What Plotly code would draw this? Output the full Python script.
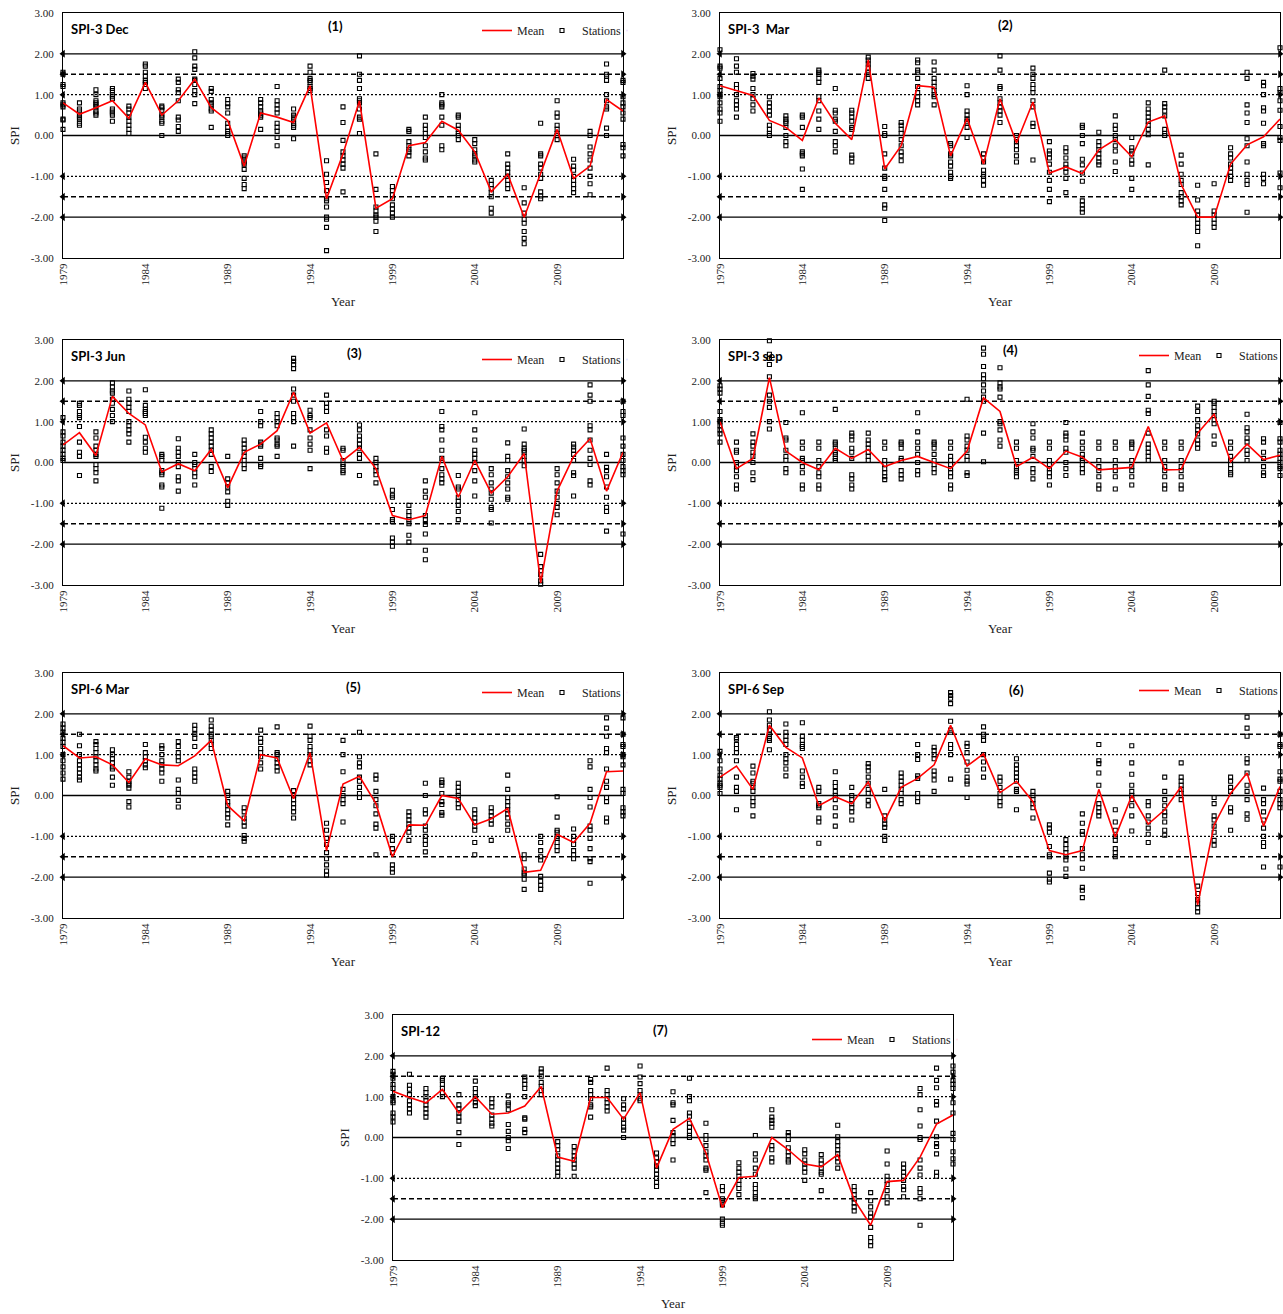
import plotly.graph_objects as go

W, H = 1283, 1314
YEARS = list(range(1979, 2014))
X_TICKS = list(range(1979, 2010, 5))
Y_TICKS = [-3, -2, -1, 0, 1, 2, 3]
Y_TICK_LABELS = ["-3.00", "-2.00", "-1.00", "0.00", "1.00", "2.00", "3.00"]
THRESH_SOLID = [2.0, -2.0]
THRESH_DASH = [1.5, -1.5]
THRESH_DOT = [1.0, -1.0]

# ---------------- Panel 1: SPI-3 Dec ----------------
MEAN_1 = [0.80, 0.52, 0.68, 0.85, 0.42, 1.30, 0.50, 0.85, 1.38, 0.68, 0.37, -0.75, 0.55, 0.45,
          0.32, 1.22, -1.55, -0.45, 0.85, -1.78, -1.55, -0.25, -0.17, 0.35, 0.13, -0.40, -1.38,
          -0.95, -2.00, -0.92, 0.15, -1.05, -0.75, 0.88, 0.60]
STATIONS_1 = [
    [1.55, 1.50, 1.25, 1.20, 0.80, 0.75, 0.70, 0.40, 0.38, 0.15],
    [0.80, 0.65, 0.60, 0.50, 0.45, 0.40, 0.30, 0.25],
    [1.12, 1.00, 0.85, 0.80, 0.75, 0.70, 0.60, 0.55, 0.50],
    [1.15, 1.10, 1.00, 0.95, 0.90, 0.65, 0.60, 0.55, 0.50, 0.35],
    [0.72, 0.65, 0.55, 0.45, 0.35, 0.25, 0.15, 0.05],
    [1.75, 1.70, 1.55, 1.45, 1.35, 1.30, 1.25, 1.15],
    [0.72, 0.68, 0.62, 0.50, 0.45, 0.35, 0.30, 0.00],
    [1.38, 1.30, 1.12, 1.05, 0.85, 0.45, 0.38, 0.22, 0.10],
    [2.05, 1.90, 1.70, 1.62, 1.38, 1.35, 1.25, 1.10, 1.00, 0.78],
    [1.15, 1.08, 0.88, 0.80, 0.75, 0.65, 0.60, 0.20],
    [0.88, 0.78, 0.70, 0.55, 0.30, 0.20, 0.10, 0.05, 0.00],
    [-0.50, -0.55, -0.60, -0.65, -0.70, -0.83, -1.05, -1.20, -1.30],
    [0.88, 0.80, 0.70, 0.60, 0.55, 0.50, 0.45, 0.15],
    [1.20, 0.85, 0.75, 0.65, 0.55, 0.30, 0.20, 0.10, -0.05, -0.25],
    [0.65, 0.50, 0.45, 0.40, 0.30, 0.25, 0.20, -0.08],
    [1.70, 1.55, 1.40, 1.35, 1.30, 1.20, 1.15, 1.10],
    [-0.62, -0.95, -1.15, -1.35, -1.55, -1.60, -1.75, -2.00, -2.05, -2.25, -2.82],
    [0.70, 0.32, -0.12, -0.40, -0.50, -0.60, -0.70, -0.80, -1.38],
    [1.95, 1.50, 1.35, 1.15, 0.90, 0.85, 0.80, 0.65, 0.45, 0.40, 0.05],
    [-0.45, -1.32, -1.75, -1.85, -1.95, -2.00, -2.10, -2.35],
    [-1.25, -1.35, -1.45, -1.55, -1.70, -1.80, -1.90, -2.00],
    [0.15, 0.10, -0.15, -0.25, -0.35, -0.40, -0.50],
    [0.45, 0.25, 0.15, 0.05, -0.05, -0.25, -0.40, -0.55, -0.60],
    [1.00, 0.80, 0.75, 0.70, 0.45, 0.25, -0.25, -0.35],
    [0.50, 0.45, 0.25, 0.15, 0.05, 0.00, -0.10],
    [-0.10, -0.20, -0.35, -0.45, -0.50, -0.60, -0.65],
    [-1.10, -1.20, -1.30, -1.40, -1.50, -1.78, -1.90],
    [-0.45, -0.70, -0.80, -0.90, -1.00, -1.10, -1.20, -1.30],
    [-1.28, -1.65, -1.90, -2.05, -2.15, -2.35, -2.52, -2.65],
    [0.30, -0.45, -0.50, -0.70, -0.80, -0.95, -1.05, -1.38, -1.48, -1.55],
    [0.85, 0.55, 0.45, 0.25, 0.15, 0.05, 0.00, -0.10],
    [-0.58, -0.75, -0.85, -1.00, -1.10, -1.20, -1.30, -1.40],
    [0.10, 0.00, -0.28, -0.45, -0.60, -0.80, -1.00, -1.18, -1.45],
    [1.75, 1.50, 1.45, 1.35, 1.00, 0.85, 0.70, 0.65, 0.18, 0.00],
    [1.35, 1.30, 0.95, 0.80, 0.70, 0.55, 0.40, -0.22, -0.30, -0.50],
]

# ---------------- Panel 2: SPI-3 Mar ----------------
MEAN_2 = [1.22, 1.10, 0.98, 0.37, 0.20, -0.12, 0.92, 0.30, -0.10, 1.85, -0.82, -0.25, 1.22, 1.18,
          -0.50, 0.42, -0.70, 0.90, -0.18, 0.82, -0.92, -0.77, -0.93, -0.35, -0.10, -0.52, 0.33,
          0.48, -1.20, -2.00, -2.00, -0.70, -0.23, -0.03, 0.40]
STATIONS_2 = [
    [2.10, 1.70, 1.65, 1.40, 1.20, 1.10, 1.00, 0.95, 0.80, 0.65, 0.55, 0.35],
    [1.88, 1.70, 1.55, 1.25, 1.15, 1.00, 0.85, 0.75, 0.65, 0.45],
    [1.52, 1.45, 1.38, 1.15, 1.00, 0.90, 0.75, 0.60],
    [0.95, 0.80, 0.70, 0.60, 0.50, 0.25, 0.15, 0.05, 0.00],
    [0.48, 0.40, 0.35, 0.30, 0.20, 0.00, -0.15, -0.25],
    [0.50, 0.45, 0.20, -0.40, -0.45, -0.50, -0.82, -1.32],
    [1.60, 1.55, 1.50, 1.40, 1.30, 0.95, 0.85, 0.60, 0.40, 0.15],
    [1.15, 0.62, 0.55, 0.40, 0.35, 0.10, -0.15, -0.25, -0.40],
    [0.62, 0.55, 0.45, 0.35, 0.20, 0.15, -0.48, -0.55, -0.65],
    [1.92, 1.85, 1.75, 1.65, 1.55, 1.50, 1.40],
    [0.22, 0.05, 0.00, -0.45, -0.80, -1.00, -1.05, -1.32, -1.70, -1.78, -2.08],
    [0.32, 0.25, 0.15, 0.05, -0.10, -0.25, -0.40, -0.50, -0.62],
    [1.85, 1.78, 1.60, 1.55, 1.40, 1.20, 1.05, 0.95, 0.85, 0.75],
    [1.80, 1.60, 1.40, 1.30, 1.20, 1.10, 1.00, 0.95, 0.75],
    [-0.20, -0.25, -0.45, -0.50, -0.65, -0.75, -0.90, -1.00, -1.05],
    [1.22, 1.00, 0.60, 0.50, 0.40, 0.35, 0.30, 0.20, -0.05],
    [-0.45, -0.55, -0.65, -0.85, -0.95, -1.00, -1.10, -1.22],
    [1.95, 1.60, 1.20, 1.15, 0.90, 0.80, 0.70, 0.60, 0.50, 0.32],
    [0.00, -0.05, -0.15, -0.25, -0.35, -0.50, -0.65],
    [1.65, 1.50, 1.40, 1.25, 1.15, 1.05, 0.85, 0.70, 0.30, 0.22, -0.60],
    [-0.15, -0.38, -0.45, -0.55, -0.70, -0.90, -1.10, -1.32, -1.62],
    [-0.30, -0.40, -0.55, -0.70, -0.80, -0.90, -1.05, -1.40],
    [0.25, 0.20, 0.00, -0.20, -0.58, -0.72, -0.92, -1.12, -1.60, -1.70, -1.80, -1.88],
    [0.08, -0.15, -0.25, -0.35, -0.45, -0.55, -0.65, -0.72],
    [0.48, 0.25, 0.15, 0.00, -0.10, -0.25, -0.38, -0.65, -0.88],
    [-0.05, -0.30, -0.38, -0.45, -0.60, -0.70, -1.05, -1.32],
    [0.80, 0.65, 0.55, 0.45, 0.35, 0.25, 0.15, 0.02, -0.72],
    [1.60, 0.78, 0.70, 0.60, 0.48, 0.15, 0.05, 0.00],
    [-0.48, -0.70, -0.95, -1.10, -1.20, -1.40, -1.50, -1.60, -1.70],
    [-1.22, -1.58, -1.85, -1.95, -2.05, -2.15, -2.25, -2.35, -2.70],
    [-1.18, -1.85, -1.95, -2.05, -2.15, -2.25],
    [-0.30, -0.45, -0.55, -0.70, -0.80, -0.90, -1.00, -1.10],
    [1.55, 1.40, 0.75, 0.55, 0.32, -0.08, -0.25, -0.65, -0.95, -1.10, -1.20, -1.88],
    [1.30, 1.22, 1.00, 0.68, 0.60, 0.30, -0.20, -0.25, -0.95, -1.05, -1.18],
    [2.15, 1.15, 1.05, 0.85, 0.62, 0.22, -0.05, -0.12, -0.92, -1.28],
]

# ---------------- Panel 3: SPI-3 Jun ----------------
MEAN_3 = [0.43, 0.73, 0.17, 1.62, 1.20, 0.92, -0.23, -0.03, -0.20, 0.32, -0.62, 0.25, 0.45, 0.78,
          1.72, 0.72, 0.97, 0.05, 0.37, -0.15, -1.30, -1.40, -1.30, 0.15, -0.85, 0.05, -0.75,
          -0.35, 0.22, -2.95, -0.70, 0.15, 0.58, -0.70, 0.25]
STATIONS_3 = [
    [1.10, 0.75, 0.65, 0.50, 0.40, 0.30, 0.20, 0.10, 0.05],
    [1.45, 1.40, 1.25, 1.15, 1.10, 0.88, 0.50, 0.25, 0.15, -0.32],
    [0.75, 0.60, 0.40, 0.30, 0.20, 0.15, -0.05, -0.15, -0.25, -0.45],
    [1.95, 1.85, 1.75, 1.70, 1.55, 1.45, 1.30, 1.15, 1.00],
    [1.75, 1.55, 1.45, 1.35, 1.25, 1.00, 0.90, 0.80, 0.70, 0.50],
    [1.78, 1.40, 1.30, 1.25, 1.20, 1.15, 0.62, 0.50, 0.35, 0.25],
    [0.20, 0.15, 0.05, -0.20, -0.25, -0.30, -0.55, -0.60, -1.12],
    [0.58, 0.35, 0.25, 0.15, 0.00, -0.10, -0.35, -0.45, -0.70],
    [0.20, 0.00, -0.05, -0.15, -0.25, -0.35, -0.55],
    [0.80, 0.70, 0.60, 0.50, 0.40, 0.30, 0.20, -0.10, -0.22],
    [0.15, -0.40, -0.50, -0.60, -0.72, -0.95, -1.05],
    [0.55, 0.45, 0.35, 0.25, 0.15, 0.05, -0.05, -0.15],
    [1.25, 1.00, 0.90, 0.50, 0.45, 0.40, 0.10, -0.05, -0.10],
    [1.20, 1.10, 1.00, 0.90, 0.60, 0.55, 0.45, 0.40, 0.15],
    [2.55, 2.48, 2.40, 2.30, 1.80, 1.65, 1.50, 1.20, 1.10, 1.00, 0.40],
    [1.28, 1.15, 1.10, 0.80, 0.60, 0.45, 0.30, -0.15],
    [1.65, 1.45, 1.35, 1.25, 0.80, 0.65, 0.35, 0.25],
    [0.35, 0.30, 0.05, -0.05, -0.10, -0.20, -0.25],
    [0.92, 0.80, 0.65, 0.55, 0.45, 0.35, 0.20, 0.10, -0.32],
    [0.10, 0.00, -0.10, -0.20, -0.30, -0.50],
    [-0.68, -0.80, -0.85, -1.15, -1.40, -1.45, -1.85, -1.95, -2.05],
    [-1.05, -1.20, -1.30, -1.40, -1.50, -1.78, -1.95],
    [-0.45, -0.70, -0.85, -1.30, -1.40, -1.52, -1.75, -2.15, -2.38],
    [1.25, 0.88, 0.80, 0.55, 0.30, 0.10, -0.15, -0.30, -0.40, -0.50],
    [-0.32, -0.60, -0.65, -0.85, -0.95, -1.05, -1.20, -1.40],
    [1.22, 0.80, 0.55, 0.30, 0.20, 0.10, 0.00, -0.20, -0.45, -0.82],
    [-0.15, -0.30, -0.50, -0.65, -0.75, -0.90, -1.10, -1.15, -1.48],
    [0.48, 0.15, 0.05, -0.20, -0.35, -0.50, -0.65, -0.85, -0.90],
    [0.82, 0.45, 0.35, 0.30, 0.25, 0.15, 0.05, -0.08],
    [-2.25, -2.55, -2.65, -2.75, -2.90, -2.98],
    [-0.15, -0.30, -0.50, -0.70, -0.85, -1.00, -1.10, -1.28],
    [0.45, 0.38, 0.30, 0.20, 0.05, -0.25, -0.32, -0.82],
    [1.90, 1.65, 1.50, 0.90, 0.80, 0.55, 0.30, 0.10, -0.05, -0.45, -0.55],
    [0.20, -0.12, -0.20, -0.35, -0.60, -0.85, -1.10, -1.20, -1.68],
    [1.50, 1.25, 1.15, 0.60, 0.40, 0.20, 0.05, -0.10, -0.20, -0.30, -1.75],
]

# ---------------- Panel 4: SPI-3 sep ----------------
MEAN_4 = [1.00, -0.15, 0.10, 2.08, 0.28, 0.00, -0.18, 0.35, 0.10, 0.32, -0.10, 0.05, 0.15, 0.00,
          -0.15, 0.28, 1.58, 1.25, -0.10, 0.13, -0.15, 0.28, 0.13, -0.18, -0.15, -0.12, 0.88,
          -0.18, -0.17, 0.72, 1.18, 0.02, 0.45, 0.07, 0.18]
STATIONS_4 = [
    [1.88, 1.80, 1.70, 1.25, 1.05, 1.00, 0.90, 0.80, 0.70, 0.50],
    [0.50, 0.30, 0.25, 0.00, -0.10, -0.20, -0.35, -0.55, -0.65],
    [0.70, 0.50, 0.40, 0.25, 0.15, 0.00, -0.25, -0.42],
    [2.98, 2.65, 2.55, 2.40, 2.10, 1.65, 1.50, 1.35, 1.00, 0.82],
    [0.98, 0.60, 0.55, 0.30, 0.15, 0.05, -0.15, -0.25],
    [1.22, 0.50, 0.35, 0.10, 0.05, -0.10, -0.25, -0.55, -0.65],
    [0.50, 0.35, 0.05, -0.10, -0.25, -0.35, -0.55, -0.65],
    [1.30, 0.50, 0.45, 0.35, 0.25, 0.20, 0.10, 0.05],
    [0.72, 0.65, 0.55, 0.35, 0.25, 0.10, -0.30, -0.40, -0.55, -0.65],
    [0.72, 0.55, 0.45, 0.35, 0.25, 0.15, 0.05],
    [0.50, 0.35, 0.05, -0.05, -0.15, -0.25, -0.35, -0.42],
    [0.50, 0.45, 0.35, 0.10, 0.05, -0.20, -0.30, -0.40],
    [1.22, 0.75, 0.50, 0.35, 0.20, 0.00, -0.20, -0.30],
    [0.50, 0.45, 0.35, 0.20, 0.05, -0.05, -0.15, -0.25],
    [0.50, 0.35, 0.15, 0.05, -0.05, -0.15, -0.25, -0.35, -0.55, -0.65],
    [1.55, 0.65, 0.55, 0.40, 0.30, 0.15, 0.05, -0.25, -0.32],
    [2.80, 2.65, 2.35, 2.15, 2.05, 1.90, 1.75, 1.60, 1.50, 0.72, 0.02],
    [2.32, 1.95, 1.85, 1.80, 1.60, 1.00, 0.95, 0.80, 0.55, 0.40],
    [0.50, 0.35, 0.05, -0.10, -0.20, -0.25, -0.35],
    [0.95, 0.75, 0.60, 0.35, 0.30, 0.15, -0.15, -0.25, -0.40],
    [0.50, 0.35, 0.05, -0.05, -0.15, -0.25, -0.35, -0.55],
    [0.98, 0.72, 0.65, 0.55, 0.35, 0.25, 0.00, -0.15, -0.32],
    [0.72, 0.50, 0.35, 0.20, 0.10, 0.05, -0.05, -0.15, -0.25],
    [0.50, 0.35, 0.05, -0.10, -0.20, -0.35, -0.55, -0.65],
    [0.50, 0.35, 0.05, -0.10, -0.20, -0.35, -0.65],
    [0.50, 0.45, 0.35, 0.05, -0.10, -0.20, -0.35, -0.55],
    [2.25, 1.90, 1.62, 1.28, 1.20, 0.72, 0.45, 0.35, 0.25, 0.15, 0.05],
    [0.50, 0.35, 0.05, -0.10, -0.20, -0.35, -0.55, -0.65],
    [0.50, 0.35, 0.05, -0.10, -0.20, -0.35, -0.55, -0.65],
    [1.38, 1.25, 1.05, 0.90, 0.80, 0.70, 0.55, 0.45, 0.35],
    [1.50, 1.45, 1.35, 1.25, 1.15, 1.05, 0.95, 0.65, 0.45],
    [0.50, 0.35, 0.15, 0.05, -0.05, -0.15, -0.25, -0.30],
    [1.18, 0.85, 0.75, 0.60, 0.50, 0.30, 0.20, 0.05],
    [0.58, 0.50, 0.25, 0.10, -0.10, -0.25, -0.32],
    [0.98, 0.58, 0.50, 0.30, 0.20, 0.10, 0.00, -0.10, -0.15, -0.32],
]

# ---------------- Panel 5: SPI-6 Mar ----------------
MEAN_5 = [1.22, 0.92, 0.95, 0.75, 0.32, 0.90, 0.75, 0.73, 0.97, 1.35, -0.25, -0.62, 1.00, 0.92,
          -0.08, 1.05, -1.35, 0.28, 0.47, -0.20, -1.50, -0.72, -0.73, 0.00, -0.07, -0.72, -0.57,
          -0.32, -1.88, -1.83, -0.95, -1.15, -0.68, 0.58, 0.60]
STATIONS_5 = [
    [1.75, 1.65, 1.55, 1.40, 1.30, 1.20, 1.00, 0.85, 0.70, 0.55, 0.40],
    [1.50, 1.22, 1.00, 0.85, 0.75, 0.65, 0.55, 0.45, 0.38],
    [1.32, 1.25, 1.15, 1.05, 0.95, 0.85, 0.75, 0.65, 0.60],
    [1.12, 1.00, 0.90, 0.80, 0.70, 0.65, 0.45, 0.25],
    [0.58, 0.45, 0.35, 0.30, 0.25, 0.18, -0.15, -0.28],
    [1.25, 1.05, 0.95, 0.85, 0.75, 0.68],
    [1.22, 1.15, 1.00, 0.85, 0.75, 0.65, 0.55, 0.35],
    [1.32, 1.20, 1.05, 0.95, 0.85, 0.38, 0.15, 0.05, -0.12, -0.28],
    [1.72, 1.62, 1.50, 1.40, 1.20, 0.65, 0.55, 0.45, 0.35],
    [1.85, 1.70, 1.60, 1.50, 1.45, 1.35, 1.25, 1.15],
    [0.10, 0.00, -0.15, -0.25, -0.35, -0.45, -0.55, -0.72],
    [-0.30, -0.40, -0.55, -0.65, -0.75, -0.98, -1.05, -1.12],
    [1.60, 1.40, 1.30, 1.15, 1.05, 0.95, 0.80, 0.65],
    [1.68, 1.05, 1.00, 0.90, 0.80, 0.70, 0.60],
    [0.12, 0.00, -0.10, -0.20, -0.30, -0.40, -0.55],
    [1.70, 1.45, 1.35, 1.20, 1.10, 1.00, 0.85, 0.75],
    [-0.68, -0.85, -1.05, -1.20, -1.40, -1.55, -1.70, -1.85, -1.95],
    [1.35, 1.00, 0.58, 0.15, 0.00, -0.10, -0.20, -0.65],
    [1.55, 0.95, 0.80, 0.70, 0.45, 0.35, 0.20, 0.05, -0.05],
    [0.50, 0.40, 0.10, -0.10, -0.25, -0.45, -0.70, -0.80, -1.45],
    [-1.00, -1.10, -1.30, -1.40, -1.70, -1.80, -1.88],
    [-0.40, -0.50, -0.60, -0.70, -0.80, -0.90, -1.10],
    [0.30, 0.00, -0.35, -0.45, -0.75, -0.85, -1.00, -1.10, -1.20, -1.38],
    [0.38, 0.32, 0.25, 0.05, -0.15, -0.22, -0.42, -0.48],
    [0.30, 0.20, 0.10, 0.00, -0.10, -0.20, -0.30],
    [-0.35, -0.45, -0.55, -0.65, -0.75, -0.85, -1.15, -1.45],
    [-0.30, -0.40, -0.50, -0.60, -0.70, -1.10],
    [0.50, 0.15, -0.05, -0.15, -0.25, -0.35, -0.45, -0.55, -0.70, -0.85],
    [-1.45, -1.55, -1.80, -1.90, -1.95, -2.05, -2.30],
    [-1.00, -1.15, -1.35, -1.50, -1.58, -1.98, -2.10, -2.20, -2.30],
    [-0.03, -0.53, -0.85, -0.90, -1.00, -1.05, -1.15, -1.25, -1.35],
    [-0.82, -1.00, -1.10, -1.20, -1.35, -1.45, -1.55],
    [0.85, 0.70, 0.15, -0.05, -0.28, -0.75, -0.85, -1.05, -1.30, -1.55, -1.62, -2.15],
    [1.90, 1.65, 1.45, 1.15, 1.05, 0.65, 0.35, 0.20, -0.05, -0.15, -0.55, -0.65],
    [1.90, 1.50, 1.25, 1.20, 1.00, 0.95, 0.75, 0.15, 0.05, -0.30, -0.40, -0.50],
]

# ---------------- Panel 6: SPI-6 Sep ----------------
MEAN_6 = [0.45, 0.72, 0.15, 1.72, 1.18, 0.92, -0.25, -0.03, -0.20, 0.33, -0.62, 0.20, 0.42, 0.75,
          1.72, 0.72, 1.02, 0.07, 0.35, -0.15, -1.35, -1.45, -1.35, 0.15, -1.02, 0.00, -0.70,
          -0.35, 0.22, -2.68, -0.72, 0.05, 0.55, -0.75, 0.22]
STATIONS_6 = [
    [1.08, 0.85, 0.65, 0.50, 0.40, 0.30, 0.25, 0.20, 0.05],
    [1.42, 1.38, 1.25, 1.15, 1.05, 0.85, 0.45, 0.20, 0.10, -0.35],
    [0.72, 0.55, 0.35, 0.30, 0.20, 0.10, -0.05, -0.15, -0.25, -0.50],
    [2.05, 1.85, 1.72, 1.60, 1.50, 1.40, 1.35, 1.12],
    [1.75, 1.55, 1.45, 1.35, 1.25, 1.00, 0.90, 0.80, 0.65, 0.48],
    [1.78, 1.45, 1.35, 1.25, 1.20, 1.15, 0.60, 0.45, 0.30, 0.22],
    [0.20, 0.10, -0.20, -0.25, -0.30, -0.55, -0.65, -1.17],
    [0.58, 0.32, 0.22, 0.10, 0.00, -0.10, -0.30, -0.50, -0.75],
    [0.20, 0.00, -0.10, -0.20, -0.30, -0.40, -0.60],
    [0.78, 0.70, 0.60, 0.45, 0.30, 0.15, 0.05, -0.12, -0.25],
    [0.15, -0.50, -0.60, -0.70, -0.78, -1.00, -1.10],
    [0.55, 0.45, 0.35, 0.25, 0.15, 0.05, -0.10, -0.20],
    [1.25, 1.00, 0.88, 0.48, 0.42, 0.05, -0.05, -0.15],
    [1.18, 1.10, 1.00, 0.90, 0.60, 0.50, 0.38, 0.10],
    [2.52, 2.45, 2.38, 2.25, 1.82, 1.60, 1.55, 1.25, 1.15, 1.00, 0.40],
    [1.28, 1.20, 1.05, 0.82, 0.62, 0.45, 0.35, 0.28, -0.05],
    [1.68, 1.50, 1.45, 1.35, 1.00, 0.82, 0.65, 0.45],
    [0.45, 0.35, 0.20, 0.05, -0.05, -0.15, -0.25],
    [0.90, 0.75, 0.65, 0.55, 0.45, 0.35, 0.15, 0.10, -0.35],
    [0.10, 0.00, -0.10, -0.20, -0.30, -0.55],
    [-0.72, -0.80, -0.90, -1.25, -1.45, -1.50, -1.90, -2.05, -2.12],
    [-1.08, -1.20, -1.30, -1.40, -1.50, -1.58, -1.80, -1.98],
    [-0.45, -0.68, -0.88, -0.95, -1.30, -1.45, -1.55, -1.78, -2.25, -2.32, -2.50],
    [1.25, 0.85, 0.78, 0.55, 0.25, -0.20, -0.30, -0.40, -0.50],
    [-0.35, -0.65, -0.85, -1.00, -1.10, -1.30, -1.40, -1.50],
    [1.22, 0.80, 0.52, 0.25, 0.10, 0.00, -0.10, -0.25, -0.50, -0.87],
    [-0.15, -0.25, -0.50, -0.65, -0.80, -0.95, -1.15],
    [0.45, 0.10, -0.10, -0.25, -0.40, -0.50, -0.65, -0.85, -0.97],
    [0.80, 0.45, 0.35, 0.25, 0.15, 0.05, -0.10],
    [-2.22, -2.40, -2.55, -2.65, -2.75, -2.85],
    [-0.05, -0.20, -0.50, -0.60, -0.75, -0.90, -1.10, -1.22],
    [0.45, 0.35, 0.20, 0.10, -0.30, -0.40, -0.85],
    [1.92, 1.65, 1.45, 0.90, 0.80, 0.55, 0.25, 0.10, -0.10, -0.45, -0.58],
    [0.18, -0.10, -0.20, -0.40, -0.60, -0.80, -1.00, -1.15, -1.25, -1.75],
    [1.50, 1.25, 1.20, 0.58, 0.40, 0.35, 0.10, -0.10, -0.20, -0.30, -1.75],
]

# ---------------- Panel 7: SPI-12 ----------------
MEAN_7 = [1.13, 0.98, 0.85, 1.18, 0.60, 1.00, 0.57, 0.60, 0.77, 1.25, -0.48, -0.58, 0.98, 0.98,
          0.45, 1.10, -0.75, 0.20, 0.47, -0.38, -1.72, -0.98, -0.95, 0.00, -0.30, -0.65, -0.72,
          -0.42, -1.52, -2.15, -1.08, -1.05, -0.48, 0.33, 0.55]
STATIONS_7 = [
    [1.62, 1.55, 1.45, 1.30, 1.20, 1.00, 0.90, 0.85, 0.60, 0.50, 0.38],
    [1.55, 1.28, 1.18, 1.05, 0.90, 0.80, 0.70, 0.60],
    [1.20, 1.10, 1.00, 0.90, 0.80, 0.70, 0.60, 0.50],
    [1.45, 1.40, 1.30, 1.20, 1.10, 1.00],
    [1.05, 0.80, 0.70, 0.60, 0.50, 0.40, 0.12, -0.17],
    [1.38, 1.20, 1.10, 1.00, 0.95, 0.85, 0.78],
    [0.95, 0.85, 0.75, 0.55, 0.45, 0.35, 0.28],
    [1.02, 0.85, 0.80, 0.68, 0.32, 0.15, 0.00, -0.08, -0.27],
    [1.48, 1.40, 1.30, 1.20, 1.00, 0.48, 0.45, 0.20, 0.12],
    [1.68, 1.60, 1.50, 1.35, 1.25, 1.15, 1.05],
    [-0.10, -0.20, -0.30, -0.45, -0.55, -0.65, -0.75, -0.85, -0.95],
    [-0.22, -0.35, -0.45, -0.55, -0.65, -0.75, -0.95],
    [1.42, 1.35, 1.15, 1.05, 0.95, 0.80, 0.75, 0.50],
    [1.70, 1.15, 1.05, 0.95, 0.85, 0.75, 0.65],
    [0.95, 0.80, 0.70, 0.45, 0.35, 0.25, 0.18, 0.00],
    [1.75, 1.48, 1.32, 1.15, 1.05, 0.95, 0.90],
    [-0.38, -0.50, -0.60, -0.70, -0.80, -0.90, -1.00, -1.10, -1.20],
    [1.12, 0.85, 0.80, 0.42, 0.12, 0.05, -0.05, -0.15, -0.55],
    [1.45, 1.00, 0.90, 0.60, 0.52, 0.35, 0.25, 0.15, 0.05, 0.00],
    [0.35, 0.05, -0.05, -0.20, -0.35, -0.45, -0.55, -0.75, -0.80, -1.35],
    [-1.20, -1.30, -1.50, -1.55, -1.60, -1.65, -2.00, -2.10, -2.15],
    [-0.62, -0.75, -0.85, -0.95, -1.05, -1.15, -1.25, -1.40],
    [0.05, -0.40, -0.55, -0.75, -0.90, -1.15, -1.25, -1.35, -1.45, -1.50],
    [0.68, 0.50, 0.42, 0.35, 0.25, -0.20, -0.30, -0.50, -0.60],
    [0.12, 0.05, -0.05, -0.25, -0.35, -0.45, -0.55, -0.60],
    [-0.30, -0.40, -0.55, -0.65, -0.75, -0.85, -1.05],
    [-0.42, -0.55, -0.65, -0.75, -0.85, -0.90, -1.30],
    [0.30, 0.02, -0.10, -0.20, -0.30, -0.40, -0.50, -0.60, -0.75],
    [-1.20, -1.30, -1.40, -1.50, -1.60, -1.70, -1.80],
    [-1.35, -1.55, -1.70, -1.85, -1.95, -2.20, -2.45, -2.55, -2.65],
    [-0.33, -0.65, -0.95, -1.05, -1.15, -1.30, -1.45, -1.60],
    [-0.65, -0.75, -0.85, -0.95, -1.05, -1.20, -1.28, -1.45],
    [1.20, 1.05, 0.68, 0.28, 0.00, -0.05, -0.55, -0.75, -0.92, -1.25, -1.35, -1.50, -2.15],
    [1.70, 1.40, 1.22, 0.88, 0.80, 0.40, 0.02, -0.15, -0.22, -0.40, -0.85, -0.95],
    [1.75, 1.60, 1.40, 1.30, 1.20, 0.85, 0.60, 0.10, -0.05, -0.35, -0.52, -0.65],
]

TITLES = ["SPI-3 Dec", "SPI-3  Mar", "SPI-3 Jun", "SPI-3 sep", "SPI-6 Mar", "SPI-6 Sep", "SPI-12"]
LABELS = ["(1)", "(2)", "(3)", "(4)", "(5)", "(6)", "(7)"]
MEANS = [MEAN_1, MEAN_2, MEAN_3, MEAN_4, MEAN_5, MEAN_6, MEAN_7]
STATIONS = [STATIONS_1, STATIONS_2, STATIONS_3, STATIONS_4, STATIONS_5, STATIONS_6, STATIONS_7]

# layout (pixel boxes: left, top, right, bottom)
BOXES = [(63, 13, 623, 258), (720, 13, 1280, 258),
         (63, 340, 623, 585), (720, 340, 1280, 585),
         (63, 673, 623, 918), (720, 673, 1280, 918),
         (393, 1015, 953, 1260)]
LABEL_X = [0.486, 0.509, 0.521, 0.518, 0.518, 0.530, 0.477]
LABEL_DY = [13, 12, 13, 10, 14, 17, 15]
TITLE_DY = [16, 16, 16, 16, 16, 16, 16]
LEGEND_TEXT_DY = [18, None, 20, 16, 20, 18, 25]

SERIF = "Liberation Serif"
SANS = "Lato"

fig = go.Figure()
layout = dict(width=W, height=H, margin=dict(l=0, r=0, t=0, b=0, autoexpand=False),
              paper_bgcolor="white", plot_bgcolor="white", showlegend=True)
shapes, annotations = [], []
legend_count = 0

for k in range(7):
    n = k + 1
    xa = "x" if n == 1 else f"x{n}"
    ya = "y" if n == 1 else f"y{n}"
    l, t, r, b = BOXES[k]
    has_leg = LEGEND_TEXT_DY[k] is not None
    legkey = None
    if has_leg:
        legend_count += 1
        legkey = "legend" if legend_count == 1 else f"legend{legend_count}"
        layout[legkey] = dict(
            orientation="h", x=(r - 146) / W, xanchor="left",
            y=1 - (t + LEGEND_TEXT_DY[k] - 15) / H, yanchor="top",
            bgcolor="rgba(0,0,0,0)", font=dict(family=SERIF, size=12, color="#222"),
            itemwidth=30, entrywidth=20, entrywidthmode="pixels",
            tracegroupgap=0, traceorder="normal")

    # threshold lines
    for vals, dash in ((THRESH_SOLID, "solid"), (THRESH_DASH, "5px,3px"), (THRESH_DOT, "2px,2px")):
        for v in vals:
            shapes.append(dict(type="line", xref=xa, yref=ya, x0=YEARS[0], x1=YEARS[-1],
                               y0=v, y1=v, layer="below",
                               line=dict(color="black", width=1.4, dash=dash)))
    shapes.append(dict(type="line", xref=xa, yref=ya, x0=YEARS[0], x1=YEARS[-1], y0=0, y1=0,
                       layer="below", line=dict(color="black", width=1.4)))
    arrows_y = THRESH_SOLID + THRESH_DASH + THRESH_DOT
    fig.add_trace(go.Scatter(
        x=[YEARS[0]] * len(arrows_y) + [YEARS[-1]] * len(arrows_y), y=arrows_y + arrows_y,
        mode="markers", xaxis=xa, yaxis=ya, showlegend=False, hoverinfo="skip", cliponaxis=False,
        marker=dict(symbol=["triangle-left"] * len(arrows_y) + ["triangle-right"] * len(arrows_y),
                    size=7, color="black", line=dict(width=0))))

    sx, sy = [], []
    for yr, vals in zip(YEARS, STATIONS[k]):
        sx += [yr] * len(vals)
        sy += vals
    st = dict(x=sx, y=sy, mode="markers", name="Stations", xaxis=xa, yaxis=ya,
              cliponaxis=False, showlegend=has_leg, legendrank=2,
              marker=dict(symbol="square-open", size=4, color="black", line=dict(width=1.1, color="black")))
    mn = dict(x=YEARS, y=MEANS[k], mode="lines", name="Mean", xaxis=xa, yaxis=ya,
              showlegend=has_leg, legendrank=1, line=dict(color="#FF0000", width=1.6))
    if has_leg:
        st["legend"] = legkey
        mn["legend"] = legkey
    fig.add_trace(go.Scatter(**st))
    fig.add_trace(go.Scatter(**mn))
    if has_leg:
        # invisible spacer entry so the legend box is wide enough for the "Stations" text
        fig.add_trace(go.Scatter(x=[None], y=[None], mode="markers", name=" ", xaxis=xa, yaxis=ya,
                                 legend=legkey, legendrank=3, hoverinfo="skip",
                                 marker=dict(size=1, opacity=0)))

    xkey = "xaxis" if n == 1 else f"xaxis{n}"
    ykey = "yaxis" if n == 1 else f"yaxis{n}"
    layout[xkey] = dict(
        domain=[l / W, r / W], anchor=ya, range=[YEARS[0], YEARS[-1]], automargin=False,
        tickmode="array", tickvals=X_TICKS, ticktext=[str(v) for v in X_TICKS], tickangle=-90,
        showline=True, mirror=True, linecolor="black", linewidth=1.3,
        showgrid=False, zeroline=False, ticks="",
        tickfont=dict(family=SERIF, size=11, color="#222"),
        title=dict(text="Year", font=dict(family=SERIF, size=13, color="#222"), standoff=12))
    layout[ykey] = dict(
        domain=[1 - b / H, 1 - t / H], anchor=xa, range=[-3, 3], automargin=False,
        tickmode="array", tickvals=Y_TICKS, ticktext=Y_TICK_LABELS,
        showline=True, mirror=True, linecolor="black", linewidth=1.3,
        showgrid=False, zeroline=False, ticks="", ticklabelstandoff=6,
        tickfont=dict(family=SERIF, size=11, color="#222"),
        title=dict(text="SPI", font=dict(family=SERIF, size=13, color="#222"), standoff=8))

    annotations.append(dict(text=f"<b>{TITLES[k]}</b>", xref=f"{xa} domain", yref=f"{ya} domain",
                            x=0.010, y=1 - TITLE_DY[k] / (b - t), xanchor="left", yanchor="middle",
                            showarrow=False, font=dict(family=SANS, size=13, color="black")))
    annotations.append(dict(text=f"<b>{LABELS[k]}</b>", xref=f"{xa} domain", yref=f"{ya} domain",
                            x=LABEL_X[k], y=1 - LABEL_DY[k] / (b - t), xanchor="center", yanchor="middle",
                            showarrow=False, font=dict(family=SANS, size=13, color="black")))

layout["shapes"] = shapes
layout["annotations"] = annotations
fig.update_layout(**layout)
fig.write_html("out.html", config={"displayModeBar": False},
               post_script="document.body.style.margin='0';")
